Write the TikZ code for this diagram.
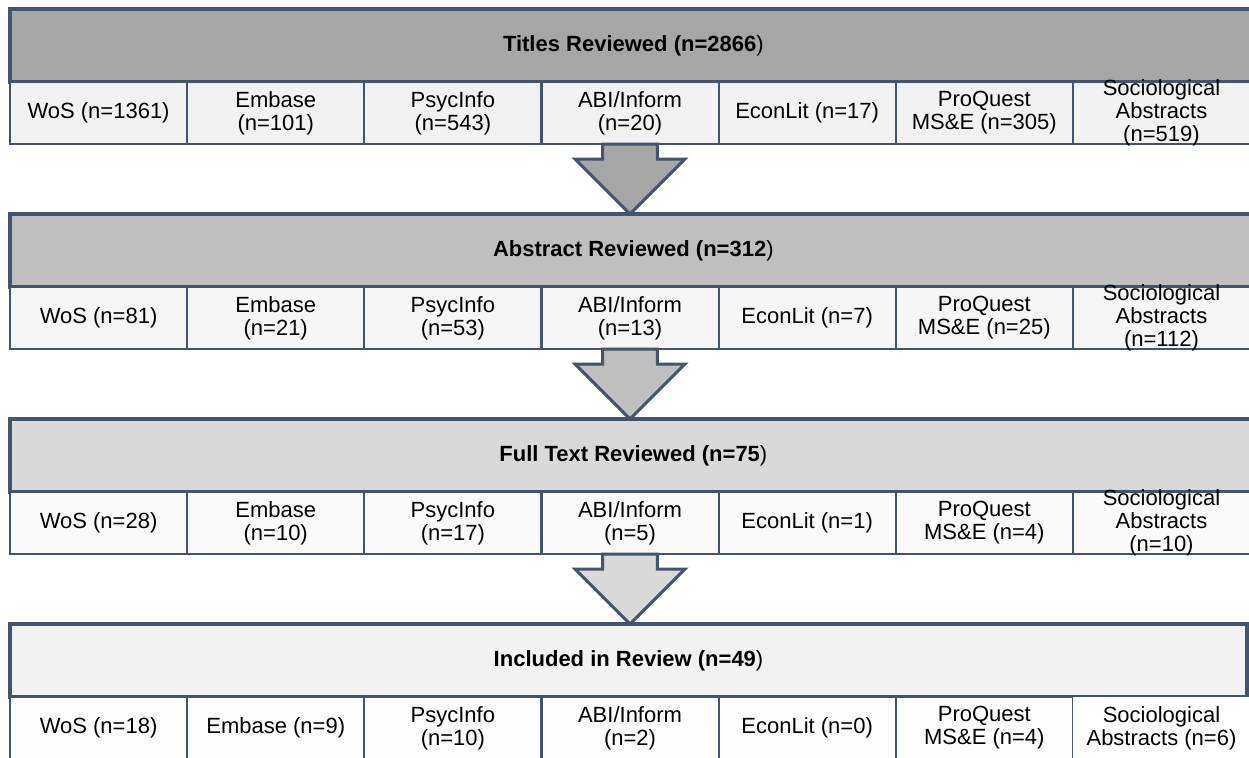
\documentclass[tikz,border=0pt]{standalone}
\usepackage{fontspec}
\setmainfont{Liberation Sans}
\usetikzlibrary{positioning,calc}

\definecolor{frame}{HTML}{44546A}
\definecolor{grayA}{HTML}{A6A6A6}
\definecolor{grayB}{HTML}{BFBFBF}
\definecolor{grayC}{HTML}{D9D9D9}
\definecolor{grayD}{HTML}{F2F2F2}
\definecolor{cellA}{HTML}{F2F2F2}
\definecolor{cellB}{HTML}{F6F6F6}
\definecolor{cellC}{HTML}{FAFAFA}
\definecolor{cellD}{HTML}{FDFDFD}

\tikzset{
  head/.style={draw=frame, line width=2.4pt, minimum width=935pt, minimum height=54.75pt,
    inner sep=0pt, outer sep=0pt, font=\fontsize{16.5}{17.25}\selectfont},
  cell/.style={draw=frame, line width=1.6pt, minimum width=132.86pt, minimum height=46.5pt,
    inner sep=0pt, outer sep=0pt, align=center, font=\fontsize{16.5}{17.25}\selectfont},
  celltext/.style={inner sep=0pt, align=center, font=\fontsize{16.5}{17.25}\selectfont},
  blockarrow/.style={draw=frame, line width=2.25pt, line join=miter},
}

\begin{document}
\begin{tikzpicture}[x=0.75pt,y=-0.75pt]
  \useasboundingbox (0,0) rectangle (1249,757);
  \clip (0,0) rectangle (1249,757);

  % titles
  \node[head, fill=grayA, anchor=north west] (titles) at (10,9) {{\bfseries Titles Reviewed (n=2866})};
  \node[cell, fill=cellA, below right=0pt and 0pt of titles.south west] (t1) {WoS (n=1361)};
  \node[cell, fill=cellA, right=0pt of t1] (t2) {Embase\\(n=101)};
  \node[cell, fill=cellA, right=0pt of t2] (t3) {PsycInfo\\(n=543)};
  \node[cell, fill=cellA, right=0pt of t3] (t4) {ABI/Inform\\(n=20)};
  \node[cell, fill=cellA, right=0pt of t4] (t5) {EconLit (n=17)};
  \node[cell, fill=cellA, right=0pt of t5] (t6) {ProQuest\\MS\&E (n=305)};
  \node[cell, fill=cellA, right=0pt of t6] (t7) {};
  \node[celltext] (t7text) at (t7) {Sociological\\Abstracts\\(n=519)};

  % abstracts
  \node[head, fill=grayB, anchor=north west] (abs) at (10,214) {{\bfseries Abstract Reviewed (n=312})};
  \node[cell, fill=cellB, below right=0pt and 0pt of abs.south west] (a1) {WoS (n=81)};
  \node[cell, fill=cellB, right=0pt of a1] (a2) {Embase\\(n=21)};
  \node[cell, fill=cellB, right=0pt of a2] (a3) {PsycInfo\\(n=53)};
  \node[cell, fill=cellB, right=0pt of a3] (a4) {ABI/Inform\\(n=13)};
  \node[cell, fill=cellB, right=0pt of a4] (a5) {EconLit (n=7)};
  \node[cell, fill=cellB, right=0pt of a5] (a6) {ProQuest\\MS\&E (n=25)};
  \node[cell, fill=cellB, right=0pt of a6] (a7) {};
  \node[celltext] (a7text) at (a7) {Sociological\\Abstracts\\(n=112)};

  % full texts
  \node[head, fill=grayC, anchor=north west] (full) at (10,419) {{\bfseries Full Text Reviewed (n=75})};
  \node[cell, fill=cellC, below right=0pt and 0pt of full.south west] (f1) {WoS (n=28)};
  \node[cell, fill=cellC, right=0pt of f1] (f2) {Embase\\(n=10)};
  \node[cell, fill=cellC, right=0pt of f2] (f3) {PsycInfo\\(n=17)};
  \node[cell, fill=cellC, right=0pt of f3] (f4) {ABI/Inform\\(n=5)};
  \node[cell, fill=cellC, right=0pt of f4] (f5) {EconLit (n=1)};
  \node[cell, fill=cellC, right=0pt of f5] (f6) {ProQuest\\MS\&E (n=4)};
  \node[cell, fill=cellC, right=0pt of f6] (f7) {};
  \node[celltext] (f7text) at (f7) {Sociological\\Abstracts\\(n=10)};

  % included
  \node[head, fill=grayD, minimum width=927.75pt, anchor=north west] (incl) at (10,624) {{\bfseries Included in Review (n=49})};
  \node[cell, fill=cellD, below right=0pt and 0pt of incl.south west] (i1) {WoS (n=18)};
  \node[cell, fill=cellD, right=0pt of i1] (i2) {Embase (n=9)};
  \node[cell, fill=cellD, right=0pt of i2] (i3) {PsycInfo\\(n=10)};
  \node[cell, fill=cellD, right=0pt of i3] (i4) {ABI/Inform\\(n=2)};
  \node[cell, fill=cellD, right=0pt of i4] (i5) {EconLit (n=0)};
  \node[cell, fill=cellD, right=0pt of i5] (i6) {ProQuest\\MS\&E (n=4)};
  \node[cell, draw=none, fill=white, right=0pt of i6] (i7) {Sociological\\Abstracts (n=6)};

  % arrows
  \draw[blockarrow, fill=grayA]
    ($(t4.south)+(-20.6pt,0)$) -- ($(t4.south |- abs.north)+(-20.6pt,41.25pt)$)
    -- ($(t4.south |- abs.north)+(-41.25pt,41.25pt)$) -- (t4.south |- abs.north)
    -- ($(t4.south |- abs.north)+(41.25pt,41.25pt)$) -- ($(t4.south |- abs.north)+(20.6pt,41.25pt)$)
    -- ($(t4.south)+(20.6pt,0)$) -- cycle;
  \draw[blockarrow, fill=grayB]
    ($(a4.south)+(-20.6pt,0)$) -- ($(a4.south |- full.north)+(-20.6pt,41.25pt)$)
    -- ($(a4.south |- full.north)+(-41.25pt,41.25pt)$) -- (a4.south |- full.north)
    -- ($(a4.south |- full.north)+(41.25pt,41.25pt)$) -- ($(a4.south |- full.north)+(20.6pt,41.25pt)$)
    -- ($(a4.south)+(20.6pt,0)$) -- cycle;
  \draw[blockarrow, fill=grayC]
    ($(f4.south)+(-20.6pt,0)$) -- ($(f4.south |- incl.north)+(-20.6pt,41.25pt)$)
    -- ($(f4.south |- incl.north)+(-41.25pt,41.25pt)$) -- (f4.south |- incl.north)
    -- ($(f4.south |- incl.north)+(41.25pt,41.25pt)$) -- ($(f4.south |- incl.north)+(20.6pt,41.25pt)$)
    -- ($(f4.south)+(20.6pt,0)$) -- cycle;

\end{tikzpicture}
\end{document}
